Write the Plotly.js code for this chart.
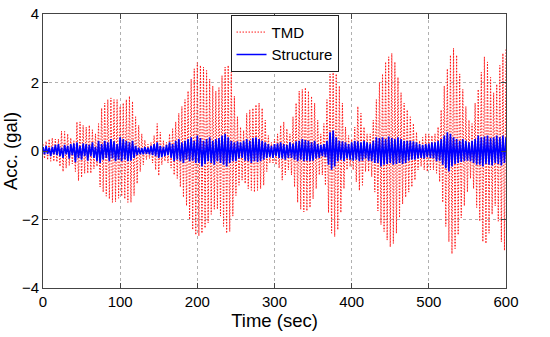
<!DOCTYPE html>
<html>
<head>
<meta charset="utf-8">
<script src="https://cdn.plot.ly/plotly-3.0.1.min.js"></script>
<style>html,body{margin:0;padding:0;background:#fff;}#chart{width:550px;height:337px;}</style>
</head>
<body>
<div id="chart"></div>
<script>
const tmdStep = 2;
const tmdAcc = [
 0.2,-0.22,0.28,-0.26,0.35,-0.3,0.38,-0.3,0.35,-0.32,
 0.35,-0.45,0.58,-0.6,0.57,-0.5,0.5,-0.42,0.38,-0.38,
 0.3,-0.6,0.85,-0.87,0.85,-0.77,0.75,-0.65,0.7,-0.65,
 0.75,-0.65,0.62,-0.52,0.5,-0.45,0.8,-1.05,1.25,-1.2,
 1.4,-1.32,1.5,-1.4,1.55,-1.5,1.5,-1.48,1.5,-1.38,
 1.3,-1.32,1.4,-1.4,1.5,-1.5,1.6,-1.5,1.45,-1.3,
 1.0,-0.95,0.75,-0.6,0.5,-0.4,0.32,-0.25,0.2,-0.22,
 0.25,-0.35,0.45,-0.55,0.8,-0.72,0.55,-0.4,0.3,-0.3,
 0.25,-0.35,0.5,-0.5,0.65,-0.7,0.85,-0.8,1.1,-1.05,
 1.3,-1.35,1.5,-1.6,1.75,-2.0,2.1,-2.3,2.4,-2.45,
 2.58,-2.48,2.5,-2.4,2.45,-2.25,2.35,-2.1,2.1,-1.85,
 1.9,-1.7,1.75,-1.7,1.85,-1.9,2.2,-2.2,2.45,-2.4,
 2.5,-2.35,2.3,-1.9,1.6,-1.3,1.0,-1.0,0.7,-0.85,
 0.6,-0.95,1.1,-1.1,1.2,-1.15,1.25,-1.2,1.35,-1.15,
 1.4,-1.1,1.25,-1.0,0.9,-0.6,0.45,-0.35,0.25,-0.35,
 0.35,-0.4,0.5,-0.5,0.75,-0.85,0.85,-0.7,0.65,-0.55,
 0.5,-0.7,1.0,-1.05,1.4,-1.5,1.75,-1.7,1.8,-1.78,
 1.85,-1.75,1.75,-1.65,1.6,-1.4,1.4,-1.1,0.9,-0.7,
 0.5,-0.7,0.8,-1.0,1.5,-1.8,2.25,-2.4,2.55,-2.5,
 2.25,-2.3,1.9,-1.8,1.4,-1.1,0.7,-0.55,0.45,-0.45,
 0.35,-0.55,0.7,-0.9,1.3,-1.15,1.1,-1.0,0.7,-0.6,
 0.5,-0.6,0.5,-0.75,0.9,-1.2,1.5,-1.75,2.0,-2.15,
 2.25,-2.35,2.6,-2.6,2.75,-2.8,2.85,-2.7,2.6,-2.4,
 2.15,-1.95,1.7,-1.55,1.4,-1.35,1.2,-1.2,1.0,-1.05,
 0.8,-0.85,0.55,-0.55,0.3,-0.45,0.4,-0.55,0.5,-0.6,
 0.5,-0.55,0.45,-0.55,0.5,-0.65,0.7,-0.9,1.2,-1.5,
 1.9,-2.2,2.4,-2.65,2.8,-3.0,3.0,-2.85,2.8,-2.45,
 2.25,-1.95,1.8,-1.6,1.3,-1.2,0.9,-0.8,0.8,-1.1,
 1.4,-1.65,1.8,-2.05,2.3,-2.65,2.75,-2.7,2.6,-2.4,
 2.15,-1.85,1.7,-1.6,1.95,-2.05,2.5,-2.65,2.85,-2.9,
 3.0
];
const structStep = 2;
const structAcc = [
 0.12,-0.1,0.15,-0.08,0.1,-0.15,0.12,-0.1,0.18,-0.12,
 0.2,-0.15,0.1,-0.2,0.18,-0.1,0.15,-0.22,0.2,-0.12,
 0.22,-0.33,0.25,-0.2,0.15,-0.25,0.22,-0.15,0.2,-0.28,
 0.18,-0.15,0.25,-0.2,0.12,-0.3,0.3,-0.35,0.2,-0.25,
 0.3,-0.2,0.25,-0.3,0.35,-0.22,0.28,-0.3,0.2,-0.25,
 0.4,-0.3,0.35,-0.25,0.3,-0.3,0.25,-0.28,0.3,-0.2,
 0.15,-0.12,0.1,-0.1,0.08,-0.1,0.12,-0.08,0.1,-0.1,
 0.15,-0.12,0.2,-0.15,0.25,-0.2,0.15,-0.18,0.12,-0.15,
 0.18,-0.12,0.25,-0.2,0.2,-0.3,0.3,-0.25,0.35,-0.3,
 0.25,-0.35,0.3,-0.25,0.35,-0.3,0.4,-0.28,0.3,-0.35,
 0.45,-0.35,0.38,-0.45,0.3,-0.38,0.35,-0.3,0.4,-0.35,
 0.3,-0.4,0.35,-0.3,0.38,-0.35,0.45,-0.4,0.5,-0.45,
 0.4,-0.35,0.3,-0.3,0.25,-0.3,0.28,-0.22,0.25,-0.2,
 0.3,-0.28,0.35,-0.3,0.3,-0.35,0.38,-0.3,0.4,-0.32,
 0.35,-0.3,0.3,-0.25,0.25,-0.2,0.2,-0.18,0.15,-0.2,
 0.2,-0.15,0.22,-0.2,0.25,-0.22,0.2,-0.25,0.18,-0.2,
 0.25,-0.2,0.22,-0.25,0.28,-0.3,0.3,-0.25,0.35,-0.3,
 0.32,-0.28,0.3,-0.3,0.25,-0.28,0.3,-0.22,0.2,-0.2,
 0.18,-0.15,0.2,-0.18,0.3,-0.4,0.55,-0.55,0.6,-0.45,
 0.4,-0.3,0.3,-0.25,0.28,-0.3,0.25,-0.22,0.2,-0.25,
 0.25,-0.28,0.3,-0.25,0.28,-0.3,0.25,-0.28,0.3,-0.22,
 0.25,-0.28,0.22,-0.3,0.3,-0.35,0.4,-0.35,0.38,-0.45,
 0.4,-0.4,0.35,-0.38,0.42,-0.35,0.38,-0.4,0.35,-0.38,
 0.4,-0.35,0.35,-0.38,0.3,-0.35,0.3,-0.28,0.3,-0.25,
 0.28,-0.25,0.25,-0.22,0.2,-0.2,0.18,-0.22,0.2,-0.18,
 0.22,-0.2,0.25,-0.22,0.25,-0.3,0.3,-0.28,0.35,-0.4,
 0.45,-0.5,0.55,-0.6,0.5,-0.45,0.4,-0.38,0.35,-0.35,
 0.3,-0.32,0.35,-0.3,0.3,-0.28,0.25,-0.3,0.3,-0.35,
 0.35,-0.4,0.45,-0.4,0.4,-0.45,0.42,-0.38,0.45,-0.4,
 0.38,-0.42,0.4,-0.35,0.45,-0.38,0.4,-0.42,0.45,-0.35,
 0.4
];
const seriesNames = ["TMD", "Structure"];
const xTicks = [0, 100, 200, 300, 400, 500, 600];
const yTicks = [-4, -2, 0, 2, 4];

const font = "Arial, 'Liberation Sans', Helvetica, sans-serif";

const traces = [
  {
    type: "scatter", mode: "lines", name: seriesNames[0],
    x0: 0, dx: tmdStep, y: tmdAcc,
    line: {color: "#ff1a1a", width: 1, dash: "1.5px,1.5px"}
  },
  {
    type: "scatter", mode: "lines", name: seriesNames[1],
    x0: 0, dx: structStep, y: structAcc,
    line: {color: "#0000ff", width: 1.6}
  }
];

const axisCommon = {
  showline: true, linecolor: "#444", linewidth: 1, mirror: "ticks",
  ticks: "inside", ticklen: 5, tickcolor: "#444",
  showgrid: true, gridcolor: "#b0b0b0", griddash: "dot", gridwidth: 1,
  zeroline: false,
  tickfont: {family: font, size: 15, color: "#000"}
};

const layout = {
  width: 550, height: 337,
  margin: {l: 43, r: 44, t: 14, b: 49},
  paper_bgcolor: "#fff", plot_bgcolor: "#fff",
  showlegend: true,
  legend: {
    x: 0.405, y: 0.997, xanchor: "left", yanchor: "top",
    bgcolor: "#fff", bordercolor: "#222", borderwidth: 1,
    font: {family: font, size: 15, color: "#000"},
    itemwidth: 30, tracegroupgap: 0
  },
  xaxis: Object.assign({}, axisCommon, {
    range: [0, 600], tickvals: xTicks,
    title: {text: "Time (sec)", font: {family: font, size: 18.5, color: "#000"}, standoff: 3}
  }),
  yaxis: Object.assign({}, axisCommon, {
    range: [-4, 4], tickvals: yTicks,
    title: {text: "Acc. (gal)", font: {family: font, size: 18.5, color: "#000"}, standoff: 6}
  })
};

Plotly.newPlot("chart", traces, layout, {displayModeBar: false, staticPlot: true});
</script>
</body>
</html>
